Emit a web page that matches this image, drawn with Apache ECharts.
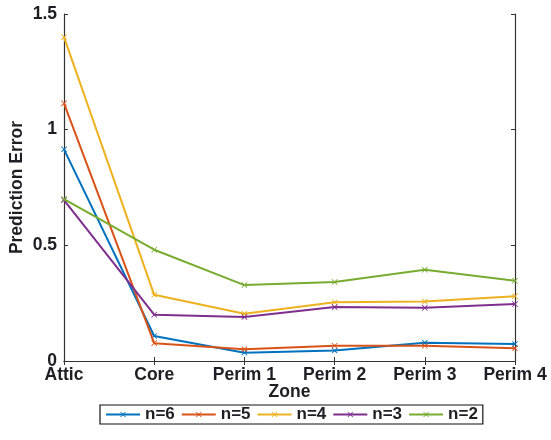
<!DOCTYPE html>
<html>
<head>
<meta charset="utf-8">
<script src="https://cdn.jsdelivr.net/npm/echarts@6/dist/echarts.min.js"></script>
<style>
  html, body { margin: 0; padding: 0; background: #fff; }
  #chart { width: 551px; height: 440px; }
</style>
</head>
<body>
<div id="chart"></div>
<script>
// Zones along the x axis
const zones = ['Attic', 'Core', 'Perim 1', 'Perim 2', 'Perim 3', 'Perim 4'];

// Prediction error per zone for each model order n
const n6 = [0.915, 0.108, 0.036, 0.045, 0.079, 0.074];
const n5 = [1.114, 0.077, 0.051, 0.066, 0.066, 0.055];
const n4 = [1.40, 0.286, 0.204, 0.254, 0.257, 0.280];
const n3 = [0.695, 0.200, 0.190, 0.233, 0.230, 0.246];
const n2 = [0.700, 0.481, 0.328, 0.341, 0.394, 0.347];

const seriesNames = ['n=6', 'n=5', 'n=4', 'n=3', 'n=2'];
const seriesValues = [n6, n5, n4, n3, n2];
const colors = ['#0072BD', '#D95319', '#EDB120', '#7E2F8E', '#77AC30'];

// Cross-shaped marker
const crossMark = 'path://M0,1L1,0L5,4L9,0L10,1L6,5L10,9L9,10L5,6L1,10L0,9L4,5Z';

const font = '"Liberation Sans", Arial, Helvetica, sans-serif';
const textColor = '#1e1e24';
const axisColor = '#333';
const fs = 17.5;

const chart = echarts.init(document.getElementById('chart'), null, { renderer: 'canvas' });

chart.setOption({
  animation: false,
  backgroundColor: '#fff',
  color: colors,
  textStyle: { fontFamily: font },
  grid: { left: 64, right: 36, top: 14, bottom: 79, containLabel: false },
  legend: {
    data: seriesNames,
    top: 405,
    left: 100,
    orient: 'horizontal',
    itemWidth: 34,
    itemHeight: 7,
    itemGap: 6,
    padding: [1, 5, 1, 5],
    borderColor: '#111',
    borderWidth: 1.2,
    textStyle: { fontFamily: font, fontSize: 17, fontWeight: 'bold', color: textColor }
  },
  xAxis: [
    {
      type: 'category',
      data: zones,
      boundaryGap: false,
      name: 'Zone',
      nameLocation: 'middle',
      nameGap: 22,
      nameMoveOverlap: false,
      nameTextStyle: { fontFamily: font, fontSize: fs, fontWeight: 'bold', color: textColor },
      axisLine: { lineStyle: { color: axisColor, width: 1.2 } },
      axisTick: { inside: true, length: 4, alignWithLabel: true, lineStyle: { color: axisColor } },
      axisLabel: { fontFamily: font, fontSize: fs, fontWeight: 'bold', color: textColor, margin: 5 },
      splitLine: { show: false }
    },
    {
      type: 'category',
      data: zones,
      boundaryGap: false,
      position: 'top',
      axisLine: { lineStyle: { color: axisColor, width: 1.2 } },
      axisTick: { inside: true, length: 4, lineStyle: { color: axisColor } },
      axisLabel: { show: false },
      splitLine: { show: false }
    }
  ],
  yAxis: [
    {
      type: 'value',
      min: 0,
      max: 1.5,
      interval: 0.5,
      name: 'Prediction Error',
      nameLocation: 'middle',
      nameGap: 38,
      nameMoveOverlap: false,
      nameTextStyle: { fontFamily: font, fontSize: fs, fontWeight: 'bold', color: textColor },
      axisLine: { show: true, lineStyle: { color: axisColor, width: 1.2 } },
      axisTick: { show: true, inside: true, length: 4, lineStyle: { color: axisColor } },
      axisLabel: { fontFamily: font, fontSize: fs, fontWeight: 'bold', color: textColor, margin: 7 },
      splitLine: { show: false }
    },
    {
      type: 'value',
      min: 0,
      max: 1.5,
      interval: 0.5,
      position: 'right',
      axisLine: { show: true, lineStyle: { color: axisColor, width: 1.2 } },
      axisTick: { show: true, inside: true, length: 4, lineStyle: { color: axisColor } },
      axisLabel: { show: false },
      splitLine: { show: false }
    }
  ],
  series: seriesNames.map((name, i) => ({
    name: name,
    type: 'line',
    data: seriesValues[i],
    xAxisIndex: 0,
    yAxisIndex: 0,
    symbol: crossMark,
    symbolSize: 6,
    showAllSymbol: true,
    lineStyle: { width: 2, color: colors[i] },
    itemStyle: { color: colors[i] },
    z: 2 + i
  }))
});
</script>
</body>
</html>
